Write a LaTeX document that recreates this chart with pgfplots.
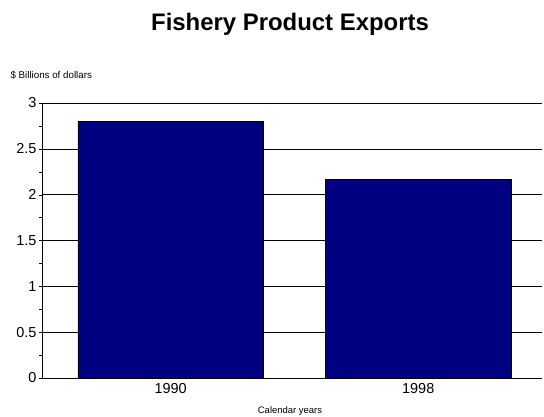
\documentclass[border=0pt]{standalone}
\usepackage{pgfplots}
\pgfplotsset{compat=1.18}
\usepackage{fontspec}
\setmainfont{Liberation Sans}
\definecolor{navybar}{RGB}{0,0,128}
\begin{document}
\begin{tikzpicture}[x=1bp,y=1bp]
\useasboundingbox (0,0) rectangle (544,416);
\begin{axis}[
  at={(42bp,38bp)}, anchor=south west,
  scale only axis, width=500bp, height=275bp,
  xmin=-0.52, xmax=1.5, ymin=0, ymax=3,
  xtick={0,1}, xticklabels={1990,1998},
  ytick={0,0.5,...,3}, minor y tick num=1,
  ymajorgrids, major grid style={black, line width=0.6pt},
  axis x line*=bottom, axis y line*=left,
  tick style={black}, major tick length=3bp, minor tick length=3bp,
  ytick style={/pgfplots/tick align=outside},
  xtick style={/pgfplots/tick align=inside},
  ticklabel style={font=\fontsize{14.5}{16}\selectfont},
  yticklabel style={xshift=-2bp},
  xticklabel style={yshift=-2bp},
  /pgf/number format/assume math mode=true,
  axis line style={black, line width=0.8pt},
]
\addplot[ybar, bar width=0.75, fill=navybar, draw=black, line width=0.6pt] coordinates {(0,2.80) (1,2.17)};
\end{axis}
\node[anchor=base, font=\bfseries\fontsize{24}{28}\selectfont] at (290,386) {Fishery Product Exports};
\node[anchor=base west, font=\fontsize{9.8}{11}\selectfont] at (7,338) {\$ Billions of dollars};
\node[anchor=base, font=\fontsize{9.5}{11}\selectfont] at (290,2.5) {Calendar years};
\end{tikzpicture}
\end{document}
